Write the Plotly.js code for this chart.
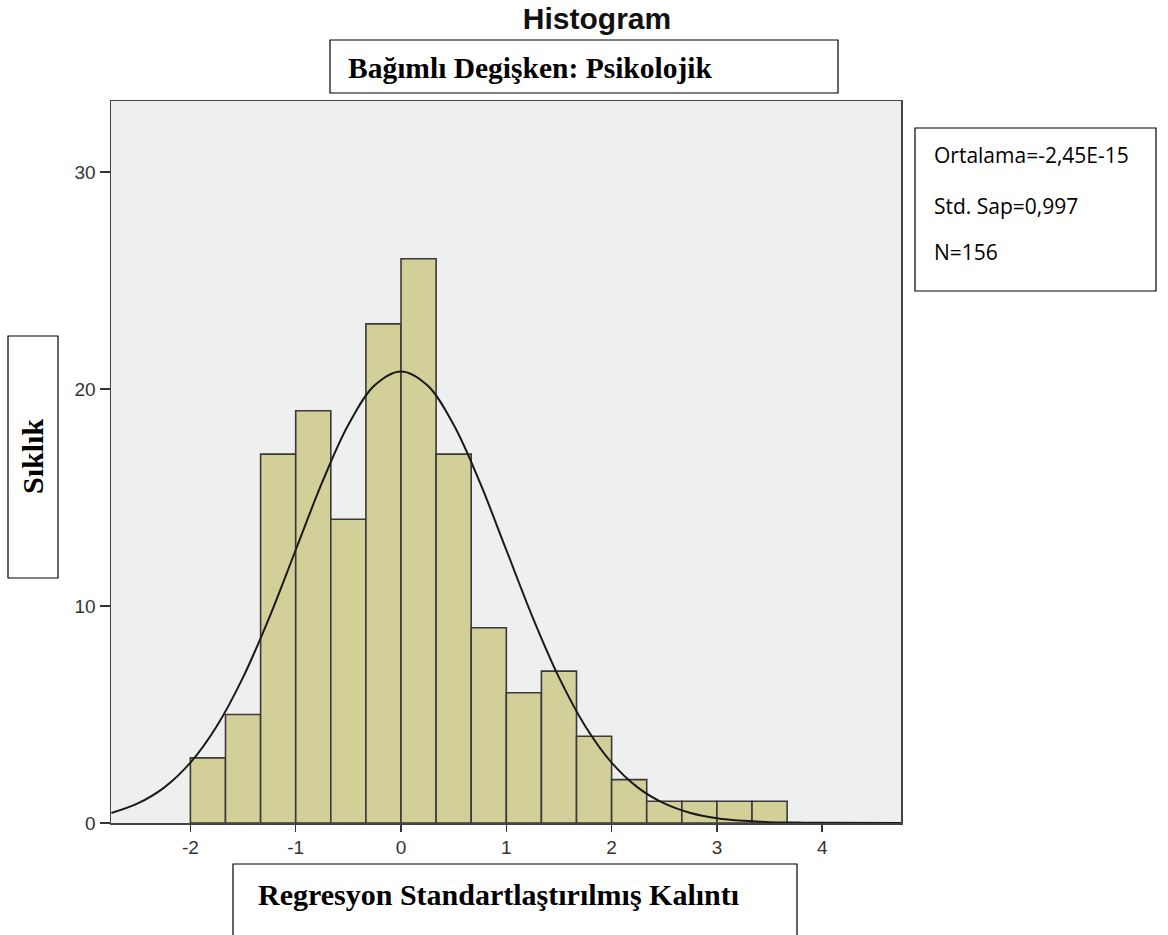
<!DOCTYPE html>
<html>
<head>
<meta charset="utf-8">
<script src="https://cdn.plot.ly/plotly-3.0.1.min.js"></script>
<style>html,body{margin:0;padding:0;background:#fff;}#chart{width:1168px;height:935px;}</style>
</head>
<body>
<div id="chart"></div>
<script>
// ---- data ----
var binLeftEdges = [-2, -1.6667, -1.3333, -1, -0.6667, -0.3333, 0, 0.3333, 0.6667, 1, 1.3333, 1.6667, 2, 2.3333, 2.6667, 3, 3.3333];
var binWidth = 1/3;
var frequencies = [3, 5, 17, 19, 14, 23, 26, 17, 9, 6, 7, 4, 2, 1, 1, 1, 1];
var curveX = [-2.75, -2.5, -2.25, -2, -1.75, -1.5, -1.25, -1, -0.75, -0.5, -0.25, 0, 0.25, 0.5, 0.75, 1, 1.25, 1.5, 1.75, 2, 2.25, 2.5, 2.75, 3, 3.25, 3.5, 3.75, 4, 4.75];
var curveY = [0.46, 0.90, 1.63, 2.78, 4.46, 6.71, 9.48, 12.58, 15.68, 18.35, 20.17, 20.81, 20.17, 18.35, 15.68, 12.58, 9.48, 6.71, 4.46, 2.78, 1.63, 0.90, 0.46, 0.22, 0.10, 0.04, 0.02, 0.01, 0.0];
var xTicks = [-2, -1, 0, 1, 2, 3, 4];
var yTicks = [0, 10, 20, 30];
var chartTitle = "Histogram";
var subTitle = "Bağımlı Degişken: Psikolojik";
var yLabel = "Sıklık";
var xLabel = "Regresyon Standartlaştırılmış Kalıntı";
var statLines = ["Ortalama=-2,45E-15", "Std. Sap=0,997", "N=156"];

// ---- layout geometry (pixels) ----
var W = 1168, H = 935;
var L = 111, R = 901, T = 101, B = 823;
function px(x){ return (x - L) / (R - L); }
function py(y){ return (B - y) / (B - T); }

var serif = "Liberation Serif, Times New Roman, serif";
var sans = "Liberation Sans, Arial, sans-serif";

var traces = [
  {
    type: "bar",
    x: binLeftEdges,
    y: frequencies,
    width: binLeftEdges.map(function(){ return binWidth; }),
    offset: 0,
    marker: { color: "#d3cf99", line: { color: "#3a3a3a", width: 1.6 } },
    hoverinfo: "x+y",
    showlegend: false
  },
  {
    type: "scatter",
    mode: "lines",
    x: curveX,
    y: curveY,
    line: { color: "#1a1a1a", width: 2, shape: "spline", smoothing: 1 },
    hoverinfo: "skip",
    showlegend: false
  }
];

function box(x0, y0, x1, y1){
  return { type: "rect", xref: "paper", yref: "paper", layer: "above",
    x0: px(x0), x1: px(x1), y0: py(y1), y1: py(y0),
    line: { color: "#000", width: 1.2 }, fillcolor: "#fff" };
}

var shapes = [
  box(330, 40, 838, 93),
  box(8, 336, 58, 578),
  box(233, 864, 797, 945),
  box(915, 128, 1156, 291)
];

var annotations = [
  { text: subTitle, xref: "paper", yref: "paper", x: px(346), y: py(68), xanchor: "left", yanchor: "middle", showarrow: false,
    font: { family: serif, size: 29.5, color: "#000", weight: "bold" } },
  { text: yLabel, xref: "paper", yref: "paper", x: px(33), y: py(457), xanchor: "center", yanchor: "middle", textangle: -90, showarrow: false,
    font: { family: serif, size: 30, color: "#000", weight: "bold" } },
  { text: xLabel, xref: "paper", yref: "paper", x: px(256), y: py(894), xanchor: "left", yanchor: "middle", showarrow: false,
    font: { family: serif, size: 30, color: "#000", weight: "bold" } },
  { text: statLines[0], xref: "paper", yref: "paper", x: px(932), y: py(155), xanchor: "left", yanchor: "middle", showarrow: false,
    font: { family: "Open Sans, sans-serif", size: 21, color: "#000" } },
  { text: statLines[1], xref: "paper", yref: "paper", x: px(932), y: py(206), xanchor: "left", yanchor: "middle", showarrow: false,
    font: { family: "Open Sans, sans-serif", size: 21, color: "#000" } },
  { text: statLines[2], xref: "paper", yref: "paper", x: px(932), y: py(252), xanchor: "left", yanchor: "middle", showarrow: false,
    font: { family: "Open Sans, sans-serif", size: 21, color: "#000" } }
];

var layout = {
  width: W, height: H,
  margin: { l: L, r: W - R, t: T, b: H - B, pad: 0 },
  paper_bgcolor: "#ffffff",
  plot_bgcolor: "#efefef",
  title: { text: chartTitle, xref: "container", yref: "container", x: 597 / W, y: 1 - 18 / H, xanchor: "center", yanchor: "middle",
    font: { family: sans, size: 30, color: "#111", weight: "bold" } },
  bargap: 0,
  xaxis: {
    range: [-2.754, 4.748], tickvals: xTicks, ticktext: xTicks.map(String),
    ticks: "outside", ticklen: 7, tickwidth: 1.5, tickcolor: "#333",
    showline: true, mirror: true, linecolor: "#444", linewidth: 1.5,
    showgrid: false, zeroline: false, fixedrange: true,
    tickfont: { family: sans, size: 19, color: "#333" }
  },
  yaxis: {
    range: [0, 33.27], tickvals: yTicks, ticktext: yTicks.map(String),
    ticks: "outside", ticklen: 10, tickwidth: 1.5, tickcolor: "#333",
    showline: true, mirror: true, linecolor: "#444", linewidth: 1.5,
    showgrid: false, zeroline: false, fixedrange: true,
    tickfont: { family: sans, size: 19, color: "#333" }
  },
  shapes: shapes,
  annotations: annotations
};

Plotly.newPlot("chart", traces, layout, { displayModeBar: false, staticPlot: true });
</script>
</body>
</html>
